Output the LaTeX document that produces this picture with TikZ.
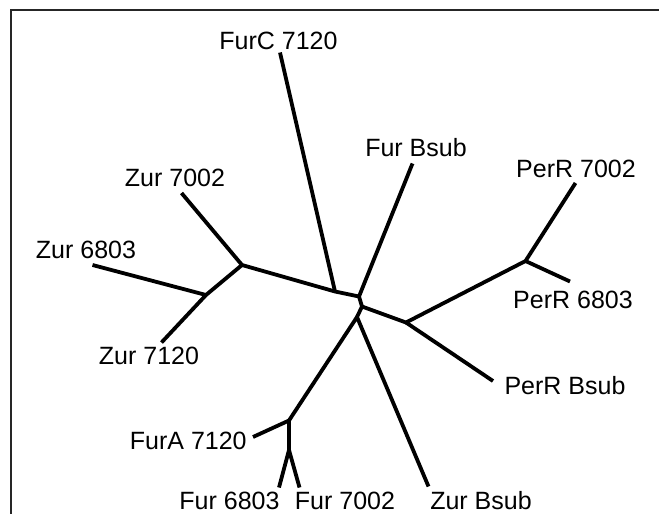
\documentclass[tikz,border=0pt]{standalone}
\usepackage{fontspec}
\setmainfont{Liberation Sans}
\begin{document}
\begin{tikzpicture}[x=1pt,y=-1pt,
  branch/.style={line width=3.8pt,line join=round},
  lbl/.style={inner sep=0pt,anchor=base,font=\fontsize{25}{30}\selectfont},
  frame/.style={line width=1.6pt,draw=black!85}]
\useasboundingbox (0,0) rectangle (659,514);
\draw[frame] (11,520) -- (11,10) -- (665,10);
% junctions
\coordinate (jzur) at (242,265);
\coordinate (jzs) at (206,295);
\coordinate (jfurc) at (335,291.5);
\coordinate (ja) at (359,296.5);
\coordinate (jb) at (362,306.5);
\coordinate (jc) at (357,317);
\coordinate (jperr) at (406,322.5);
\coordinate (jperr2) at (525.5,261);
\coordinate (jfura) at (289,420.5);
\coordinate (jfur) at (289,450);
% leaves
\coordinate (lzur7002) at (181.5,193);
\coordinate (lzur6803) at (92.5,265);
\coordinate (lzur7120) at (161.5,342.5);
\coordinate (lfurc) at (280,52.5);
\coordinate (lfurbsub) at (412.5,163.5);
\coordinate (lperr7002) at (575.5,183);
\coordinate (lperr6803) at (570,281.5);
\coordinate (lperrbsub) at (493,381);
\coordinate (lzurbsub) at (428.5,486.5);
\coordinate (lfura) at (253,437);
\coordinate (lfur6803) at (279,487.5);
\coordinate (lfur7002) at (299.5,487.5);
% labels
\node[lbl] (tfurc) at (278.5,49.3) {FurC 7120};
\node[lbl] (tfurbsub) at (416,156.7) {Fur Bsub};
\node[lbl] (tzur7002) at (175,186) {Zur 7002};
\node[lbl] (tzur6803) at (86,258) {Zur 6803};
\node[lbl] (tzur7120) at (149,364.5) {Zur 7120};
\node[lbl] (tperr7002) at (576,177) {PerR 7002};
\node[lbl] (tperr6803) at (573,308.3) {PerR 6803};
\node[lbl] (tperrbsub) at (565,394) {PerR Bsub};
\node[lbl] (tfura) at (188.3,449) {FurA 7120};
\node[lbl] (tfur6803) at (229.5,509.5) {Fur 6803};
\node[lbl] (tfur7002) at (345,509.5) {Fur 7002};
\node[lbl] (tzurbsub) at (481,509.5) {Zur Bsub};
% branches
\draw[branch] (lzur7002) -- (jzur) -- (jfurc) -- (ja) -- (jb) -- (jc);
\draw[branch] (lzur6803) -- (jzs) -- (lzur7120);
\draw[branch] (jzs) -- (jzur);
\draw[branch] (lfurc) -- (jfurc);
\draw[branch] (lfurbsub) -- (ja);
\draw[branch] (jb) -- (jperr) -- (jperr2) -- (lperr7002);
\draw[branch] (jperr2) -- (lperr6803);
\draw[branch] (jperr) -- (lperrbsub);
\draw[branch] (lzurbsub) -- (jc) -- (jfura) -- (lfura);
\draw[branch] (jfura) -- (jfur) -- (lfur6803);
\draw[branch] (jfur) -- (lfur7002);
\end{tikzpicture}
\end{document}
